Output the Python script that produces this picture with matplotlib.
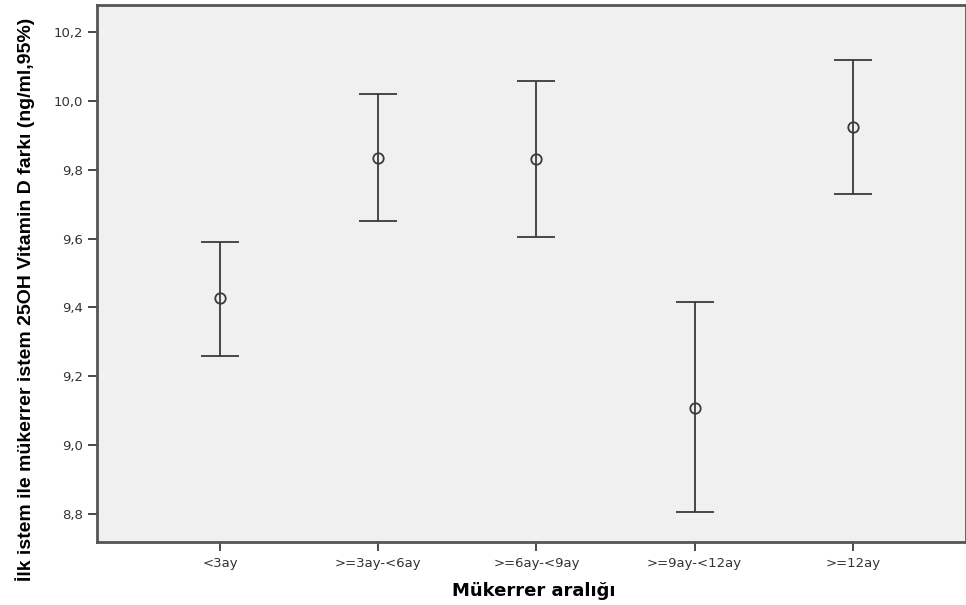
import matplotlib.pyplot as plt
from matplotlib.font_manager import FontProperties
import numpy as np

gruplar = ['<3ay', '>=3ay-<6ay', '>=6ay-<9ay', '>=9ay-<12ay', '>=12ay']
ortalama = [9.427, 9.834, 9.830, 9.108, 9.924]
alt_sinir = [9.259, 9.651, 9.604, 8.805, 9.730]
ust_sinir = [9.590, 10.020, 10.058, 9.416, 10.119]

plt.rcParams['font.family'] = ['DejaVu Sans']

fig = plt.figure(figsize=(9.66, 6.05), dpi=100)
ax = fig.add_axes([0.1004, 0.1041, 0.8996, 0.8876])
ax.set_facecolor('#f0f0f0')

x = np.arange(1, len(gruplar) + 1)
ort = np.array(ortalama)
hata = [ort - np.array(alt_sinir), np.array(ust_sinir) - ort]

ax.errorbar(x, ort, yerr=hata, fmt='o', color='#3a3a3a', ecolor='#3a3a3a',
            elinewidth=1.3, capsize=14, capthick=1.3,
            markerfacecolor='none', markeredgecolor='#3a3a3a',
            markersize=7.5, markeredgewidth=1.3)

ax.set_xlim(0.222, 5.715)
ax.set_ylim(8.719, 10.278)
ax.set_xticks(x)
ax.set_xticklabels(gruplar)
ax.set_yticks(np.arange(8.8, 10.21, 0.2))
ax.set_yticklabels([f'{v:.1f}'.replace('.', ',') for v in np.arange(8.8, 10.21, 0.2)])

ax.tick_params(axis='both', direction='out', length=6.5, width=1.3,
               colors='#3a3a3a', labelsize=9.5, labelcolor='#333333')
ax.tick_params(axis='x', pad=4)
for s in ax.spines.values():
    s.set_color('#555555')
    s.set_linewidth(2)

ax.set_xlabel('Mükerrer aralığı', fontsize=13, fontweight='bold')
ax.xaxis.set_label_coords(0.503, -0.074)

# y ekseni etiketi: dar, kalın yazı
yfont = FontProperties(family='Liberation Sans', weight='bold', size=14)
ax.set_ylabel('İlk istem ile mükerrer istem 25OH Vitamin D farkı (ng/ml,95%)',
              fontproperties=yfont)
ax.yaxis.set_label_coords(-0.0713, 0.452)

fig.savefig('out.png', dpi=100)
